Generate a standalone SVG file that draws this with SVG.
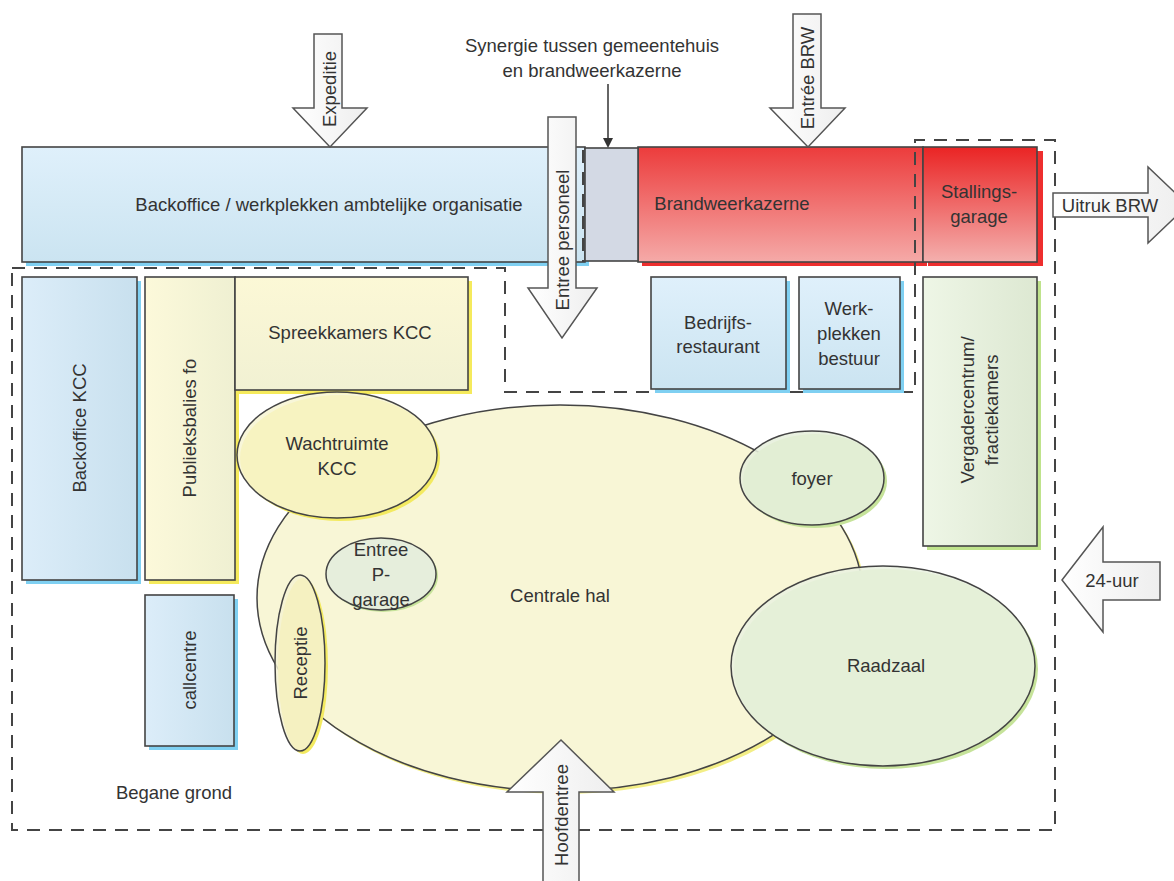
<svg xmlns="http://www.w3.org/2000/svg" width="1174" height="881" viewBox="0 0 1174 881">
<defs>
<linearGradient id="blueV" x1="0" y1="0" x2="0" y2="1"><stop offset="0" stop-color="#dff0fb"/><stop offset="1" stop-color="#cbe4f1"/></linearGradient>
<linearGradient id="blueH" x1="0" y1="0" x2="1" y2="0"><stop offset="0" stop-color="#dcedf9"/><stop offset="1" stop-color="#c8e0ee"/></linearGradient>
<linearGradient id="yellowH" x1="0" y1="0" x2="1" y2="0"><stop offset="0" stop-color="#fcf9da"/><stop offset="1" stop-color="#eff0d2"/></linearGradient>
<linearGradient id="yellowV" x1="0" y1="0" x2="0" y2="1"><stop offset="0" stop-color="#fcf8d6"/><stop offset="1" stop-color="#f1f1d3"/></linearGradient>
<linearGradient id="greenH" x1="0" y1="0" x2="1" y2="0"><stop offset="0" stop-color="#eef6e6"/><stop offset="1" stop-color="#dde8d2"/></linearGradient>
<linearGradient id="redV" x1="0" y1="0" x2="0" y2="1"><stop offset="0" stop-color="#ec3c3c"/><stop offset="1" stop-color="#f5aaa8"/></linearGradient>
<linearGradient id="redV2" x1="0" y1="0" x2="0" y2="1"><stop offset="0" stop-color="#ea2424"/><stop offset="1" stop-color="#f4b0ae"/></linearGradient>
<linearGradient id="arrowV" x1="0" y1="0" x2="1" y2="0"><stop offset="0" stop-color="#ffffff"/><stop offset="1" stop-color="#eeeeee"/></linearGradient>
<marker id="tri" markerWidth="10" markerHeight="10" refX="8" refY="5" orient="auto" markerUnits="userSpaceOnUse"><path d="M0,0 L10,5 L0,10 z" fill="#333"/></marker>
</defs>
<style>
text{font-family:"Liberation Sans",Arial,sans-serif;font-size:18.5px;fill:#333;text-anchor:middle;dominant-baseline:central}
.box{stroke:#444;stroke-width:1.6}
.dash{fill:none;stroke:#444;stroke-width:2;stroke-dasharray:13 9}
.arr{fill:url(#arrowV);stroke:#555;stroke-width:1.5}
.sb{fill:#7fd0f2}
.sy{fill:#f5ea5c}
.sg{fill:#bfe38c}
.sr{fill:#ee2e2e}
.ell{stroke:#444;stroke-width:1.5}
</style>
<rect width="1174" height="881" fill="#ffffff"/>

<g id="backoffice-ambtelijk">
<rect class="sb" x="26" y="151" width="563" height="115"/>
<rect class="box" x="22" y="147" width="563" height="115" fill="url(#blueV)"/>
<text x="329" y="204">Backoffice / werkplekken ambtelijke organisatie</text>
</g>
<g id="brandweerkazerne">
<rect class="sr" x="642" y="151" width="285" height="115"/>
<rect class="box" x="638" y="147" width="285" height="115" fill="url(#redV)"/>
<text x="732" y="203">Brandweerkazerne</text>
</g>
<g id="synergie-zone">
<rect class="box" x="585" y="148" width="53" height="113" fill="#d3d9e4"/>
</g>
<g id="stallingsgarage">
<rect class="sr" x="928" y="151" width="115" height="115"/>
<rect class="box" x="923" y="147" width="114" height="115" fill="url(#redV2)"/>
<text x="979" y="191">Stallings-</text>
<text x="979" y="216">garage</text>
</g>

<g id="zones">
<polygon class="dash" points="12,268 505,268 505,392 915,392 915,140 1055,140 1055,830 12,830"/>
<line class="dash" x1="583" y1="150" x2="583" y2="262"/>
</g>

<g id="backoffice-kcc">
<rect class="sb" x="26" y="281" width="115" height="303"/>
<rect class="box" x="22" y="277" width="115" height="303" fill="url(#blueH)"/>
<text transform="translate(79,428) rotate(-90)">Backoffice KCC</text>
</g>
<g id="publieksbalies">
<rect class="sy" x="149" y="281" width="90" height="303"/>
<rect class="box" x="145" y="277" width="90" height="303" fill="url(#yellowH)"/>
<text transform="translate(189,428) rotate(-90)">Publieksbalies fo</text>
</g>
<g id="spreekkamers">
<rect class="sy" x="239" y="281" width="233" height="113"/>
<rect class="box" x="235" y="277" width="233" height="113" fill="url(#yellowV)"/>
<text x="350" y="332">Spreekkamers KCC</text>
</g>
<g id="callcentre">
<rect class="sb" x="149" y="599" width="89" height="151"/>
<rect class="box" x="145" y="595" width="89" height="151" fill="url(#blueH)"/>
<text transform="translate(189,670) rotate(-90)">callcentre</text>
</g>
<g id="bedrijfsrestaurant">
<rect class="sb" x="655" y="281" width="135" height="112"/>
<rect class="box" x="651" y="277" width="135" height="112" fill="url(#blueV)"/>
<text x="718" y="322">Bedrijfs-</text>
<text x="718" y="346">restaurant</text>
</g>
<g id="werkplekken-bestuur">
<rect class="sb" x="803" y="281" width="101" height="112"/>
<rect class="box" x="799" y="277" width="101" height="112" fill="url(#blueV)"/>
<text x="849" y="308">Werk-</text>
<text x="849" y="333">plekken</text>
<text x="849" y="358">bestuur</text>
</g>
<g id="vergadercentrum">
<rect class="sg" x="927" y="281" width="114" height="269"/>
<rect class="box" x="923" y="277" width="114" height="269" fill="url(#greenH)"/>
<text transform="translate(979,410) rotate(-90)"><tspan x="0" dy="-12">Vergadercentrum/</tspan><tspan x="0" dy="24">fractiekamers</tspan></text>
</g>

<g id="centrale-hal">
<ellipse cx="563" cy="601" rx="303" ry="193" fill="#f3ee86"/>
<ellipse class="ell" cx="560" cy="598" rx="303" ry="193" fill="#f8f6d6"/>
<text x="560" y="595">Centrale hal</text>
</g>
<g id="wachtruimte">
<ellipse cx="340" cy="458" rx="100" ry="63" fill="#f3ea60"/>
<ellipse class="ell" cx="337" cy="455" rx="100" ry="63" fill="#f7f4d2" fill-opacity="0.85"/>
<text x="337" y="443">Wachtruimte</text>
<text x="337" y="468">KCC</text>
</g>
<g id="entree-p-garage">
<ellipse cx="383" cy="576" rx="55" ry="36" fill="#c6e39a"/>
<ellipse class="ell" cx="381" cy="574" rx="55" ry="36" fill="#e6eedc"/>
<text x="381" y="549">Entree</text>
<text x="381" y="574">P-</text>
<text x="381" y="599">garage</text>
</g>
<g id="receptie">
<ellipse cx="303" cy="666" rx="25" ry="88" fill="#f3ea60"/>
<ellipse class="ell" cx="300" cy="663" rx="25" ry="88" fill="#f4f2d2" fill-opacity="0.85"/>
<text transform="translate(300,663) rotate(-90)">Receptie</text>
</g>
<g id="foyer">
<ellipse cx="815" cy="481" rx="72" ry="47" fill="#c6e39a"/>
<ellipse class="ell" cx="812" cy="478" rx="72" ry="47" fill="#e6efdc" fill-opacity="0.88"/>
<text x="812" y="478">foyer</text>
</g>
<g id="raadzaal">
<ellipse cx="886" cy="669" rx="152" ry="100" fill="#c6e39a"/>
<ellipse class="ell" cx="883" cy="666" rx="152" ry="100" fill="#e9f1e0" fill-opacity="0.88"/>
<text x="886" y="665">Raadzaal</text>
</g>

<text id="begane-grond" x="174" y="792">Begane grond</text>

<g id="arrow-expeditie">
<polygon class="arr" points="314,34 342,34 342,108 367,108 330,147 293,108 314,108"/>
<text transform="translate(329,89) rotate(-90)">Expeditie</text>
</g>
<g id="arrow-entree-brw">
<polygon class="arr" points="793,14 821,14 821,108 845,108 808,147 770,108 793,108"/>
<text transform="translate(807,78) rotate(-90)">Entrée BRW</text>
</g>
<g id="arrow-entree-personeel">
<polygon class="arr" points="548,117 576,117 576,288 597,288 562,338 528,288 548,288"/>
<text transform="translate(562,240) rotate(-90)">Entree personeel</text>
</g>
<g id="arrow-hoofdentree">
<polygon class="arr" points="561,740 614,792 579,792 579,890 543,890 543,792 507,792"/>
<text transform="translate(561,815) rotate(-90)">Hoofdentree</text>
</g>
<g id="arrow-uitruk">
<polygon class="arr" points="1053,193 1148,193 1148,167 1188,205 1148,243 1148,217 1053,217"/>
<text x="1110" y="205">Uitruk BRW</text>
</g>
<g id="arrow-24uur">
<polygon class="arr" points="1062,580 1103,527 1103,562 1160,562 1160,600 1103,600 1103,632"/>
<text x="1112" y="580">24-uur</text>
</g>

<g id="synergie-label">
<text x="592" y="45">Synergie tussen gemeentehuis</text>
<text x="592" y="70">en brandweerkazerne</text>
</g>
<g id="connectors">
<line x1="608" y1="84" x2="608" y2="146" stroke="#333" stroke-width="1.5" marker-end="url(#tri)"/>
</g>
</svg>
